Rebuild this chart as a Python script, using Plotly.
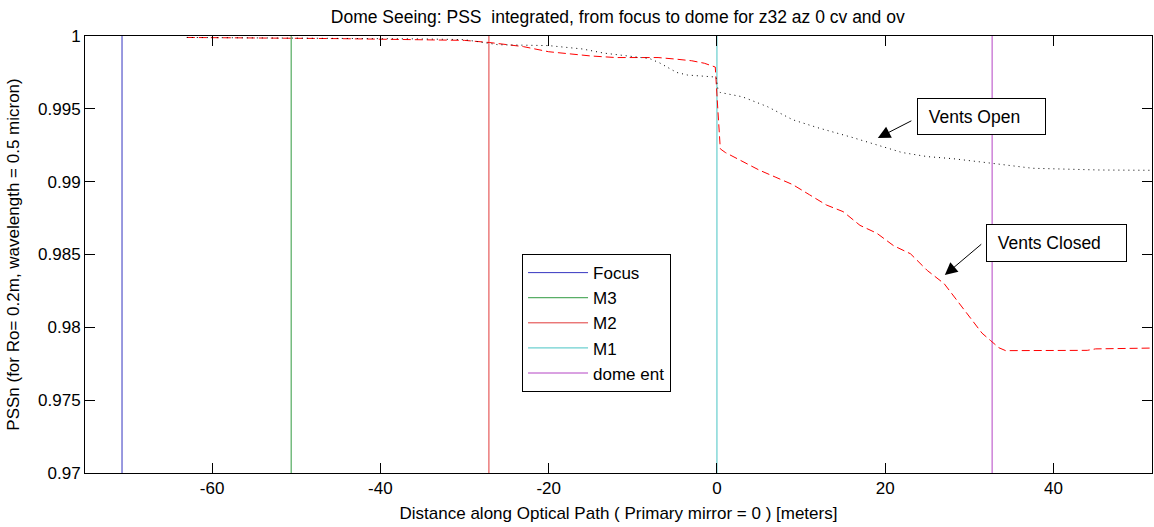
import plotly.graph_objects as go

# ---- data ----
closed_x = [-63, -55, -50, -45, -40, -35, -30, -27, -23, -20, -17, -15, -12, -9, -7, -5, -3, -1.5, -0.2,
            0.1, 0.4, 1, 3, 5, 7, 9, 11, 13, 15, 17, 19, 21, 23, 25, 27, 29, 30.5, 31.5, 32.5, 33.5, 34.3,
            38, 44, 45, 52]
closed_y = [0.99990, 0.99988, 0.99985, 0.99982, 0.99978, 0.99975, 0.99970, 0.99955, 0.99927, 0.99892,
            0.99875, 0.99863, 0.99852, 0.99850, 0.99852, 0.99842, 0.99830, 0.99813, 0.99787,
            0.99500, 0.99225, 0.99200, 0.99140, 0.99080, 0.99030, 0.98980, 0.98910, 0.98840, 0.98794,
            0.98700, 0.98646, 0.98560, 0.98505, 0.98390, 0.98300, 0.98150, 0.98030, 0.97960, 0.97910,
            0.97860, 0.97840, 0.97840, 0.97842, 0.97852, 0.97858]

open_x = [-63, -55, -50, -44, -35, -30, -27, -26, -20, -16, -13.5, -10, -8, -6.8, -4.8, -3.5, -0.8, -0.1,
          0.1, 0.4, 3, 6, 9, 12, 16, 19, 22, 25, 28, 32.7, 37.5, 45.5, 52]
open_y = [0.99990, 0.99988, 0.99986, 0.99984, 0.99980, 0.99975, 0.99950, 0.99940, 0.99934, 0.99911,
          0.99883, 0.99862, 0.99845, 0.99815, 0.99750, 0.99732, 0.99720, 0.99718,
          0.99640, 0.99612, 0.99583, 0.99515, 0.99425, 0.99370, 0.99305, 0.99252, 0.99200, 0.99172,
          0.99158, 0.99126, 0.99092, 0.99080, 0.99078]

marker_names = ["Focus", "M3", "M2", "M1", "dome ent"]
marker_pos = [-70.7, -50.6, -27.1, 0.0, 32.7]
marker_colors = ["#3535c0", "#2f9a3f", "#e03a3a", "#48c4c4", "#b444c4"]

x_ticks = [-60, -40, -20, 0, 20, 40]
x_ticklabels = ["-60", "-40", "-20", "0", "20", "40"]
y_ticks = [0.97, 0.975, 0.98, 0.985, 0.99, 0.995, 1.0]
y_ticklabels = ["0.97", "0.975", "0.98", "0.985", "0.99", "0.995", "1"]

x_range = [-75.1, 51.7]
y_range = [0.97, 1.0]

FONT = "Liberation Sans, Arial, sans-serif"

fig = go.Figure()

for i, (name, pos, col) in enumerate(zip(marker_names, marker_pos, marker_colors)):
    fig.add_trace(go.Scatter(
        x=[pos, pos], y=y_range, mode="lines", name=name,
        line=dict(color=col, width=1), legendgroup=f"g{i}",
        hoverinfo="skip"))

fig.add_trace(go.Scatter(x=closed_x, y=closed_y, mode="lines", showlegend=False,
                         line=dict(color="#ff0000", width=1, dash="8px,4px")))
fig.add_trace(go.Scatter(x=open_x, y=open_y, mode="lines", showlegend=False,
                         line=dict(color="#000000", width=1, dash="1px,4px")))

# arrows
fig.add_annotation(x=19.12, y=0.99300, ax=23.28, ay=0.99423, axref="x", ayref="y",
                   xref="x", yref="y", text="", showarrow=True,
                   arrowhead=2, arrowsize=2.5, arrowwidth=1, arrowcolor="black")
fig.add_annotation(x=27.08, y=0.98359, ax=31.59, ay=0.98579, axref="x", ayref="y",
                   xref="x", yref="y", text="", showarrow=True,
                   arrowhead=2, arrowsize=2.5, arrowwidth=1, arrowcolor="black")

# text boxes
fig.add_annotation(x=23.75, y=0.99447, xref="x", yref="y", xanchor="left", yanchor="middle",
                   text="\u00a0\u00a0Vents Open", showarrow=False, align="left",
                   width=125, height=33, borderpad=1, bordercolor="black", borderwidth=1,
                   bgcolor="white", font=dict(family=FONT, size=17.5, color="black"))
fig.add_annotation(x=31.95, y=0.98579, xref="x", yref="y", xanchor="left", yanchor="middle",
                   text="\u00a0\u00a0Vents Closed", showarrow=False, align="left",
                   width=137, height=34, borderpad=1, bordercolor="black", borderwidth=1,
                   bgcolor="white", font=dict(family=FONT, size=17.5, color="black"))

axis_common = dict(showline=True, linecolor="black", linewidth=1, mirror="ticks",
                   ticks="inside", ticklen=10, tickcolor="black", tickwidth=1,
                   showgrid=False, zeroline=False,
                   tickfont=dict(family=FONT, size=17, color="black"))

fig.update_xaxes(range=x_range, tickvals=x_ticks, ticktext=x_ticklabels,
                 title=dict(text="Distance along Optical Path ( Primary mirror = 0 ) [meters]",
                            font=dict(family=FONT, size=17, color="black"), standoff=9),
                 **axis_common)
fig.update_yaxes(range=y_range, tickvals=y_ticks, ticktext=y_ticklabels,
                 title=dict(text="PSSn (for Ro= 0.2m, wavelength = 0.5 micron)",
                            font=dict(family=FONT, size=17, color="black"), standoff=14),
                 **axis_common)

fig.update_layout(
    width=1154, height=527,
    margin=dict(l=85, r=2, t=36, b=54),
    plot_bgcolor="white", paper_bgcolor="white",
    title=dict(text="Dome Seeing: PSS \u00a0integrated, from focus to dome for z32 az 0 cv and ov",
               x=0.5353, xanchor="center", y=1 - 17 / 527, yanchor="middle", yref="container",
               font=dict(family=FONT, size=17.5, color="black")),
    legend=dict(x=0.4096, y=0.501, xanchor="left", yanchor="top",
                bordercolor="black", borderwidth=1, bgcolor="white",
                font=dict(family=FONT, size=17, color="black"),
                tracegroupgap=0, itemwidth=60),
    showlegend=True,
)

fig.write_html("out.html", config={"displayModeBar": False},
               post_script="document.body.style.margin='0';")
